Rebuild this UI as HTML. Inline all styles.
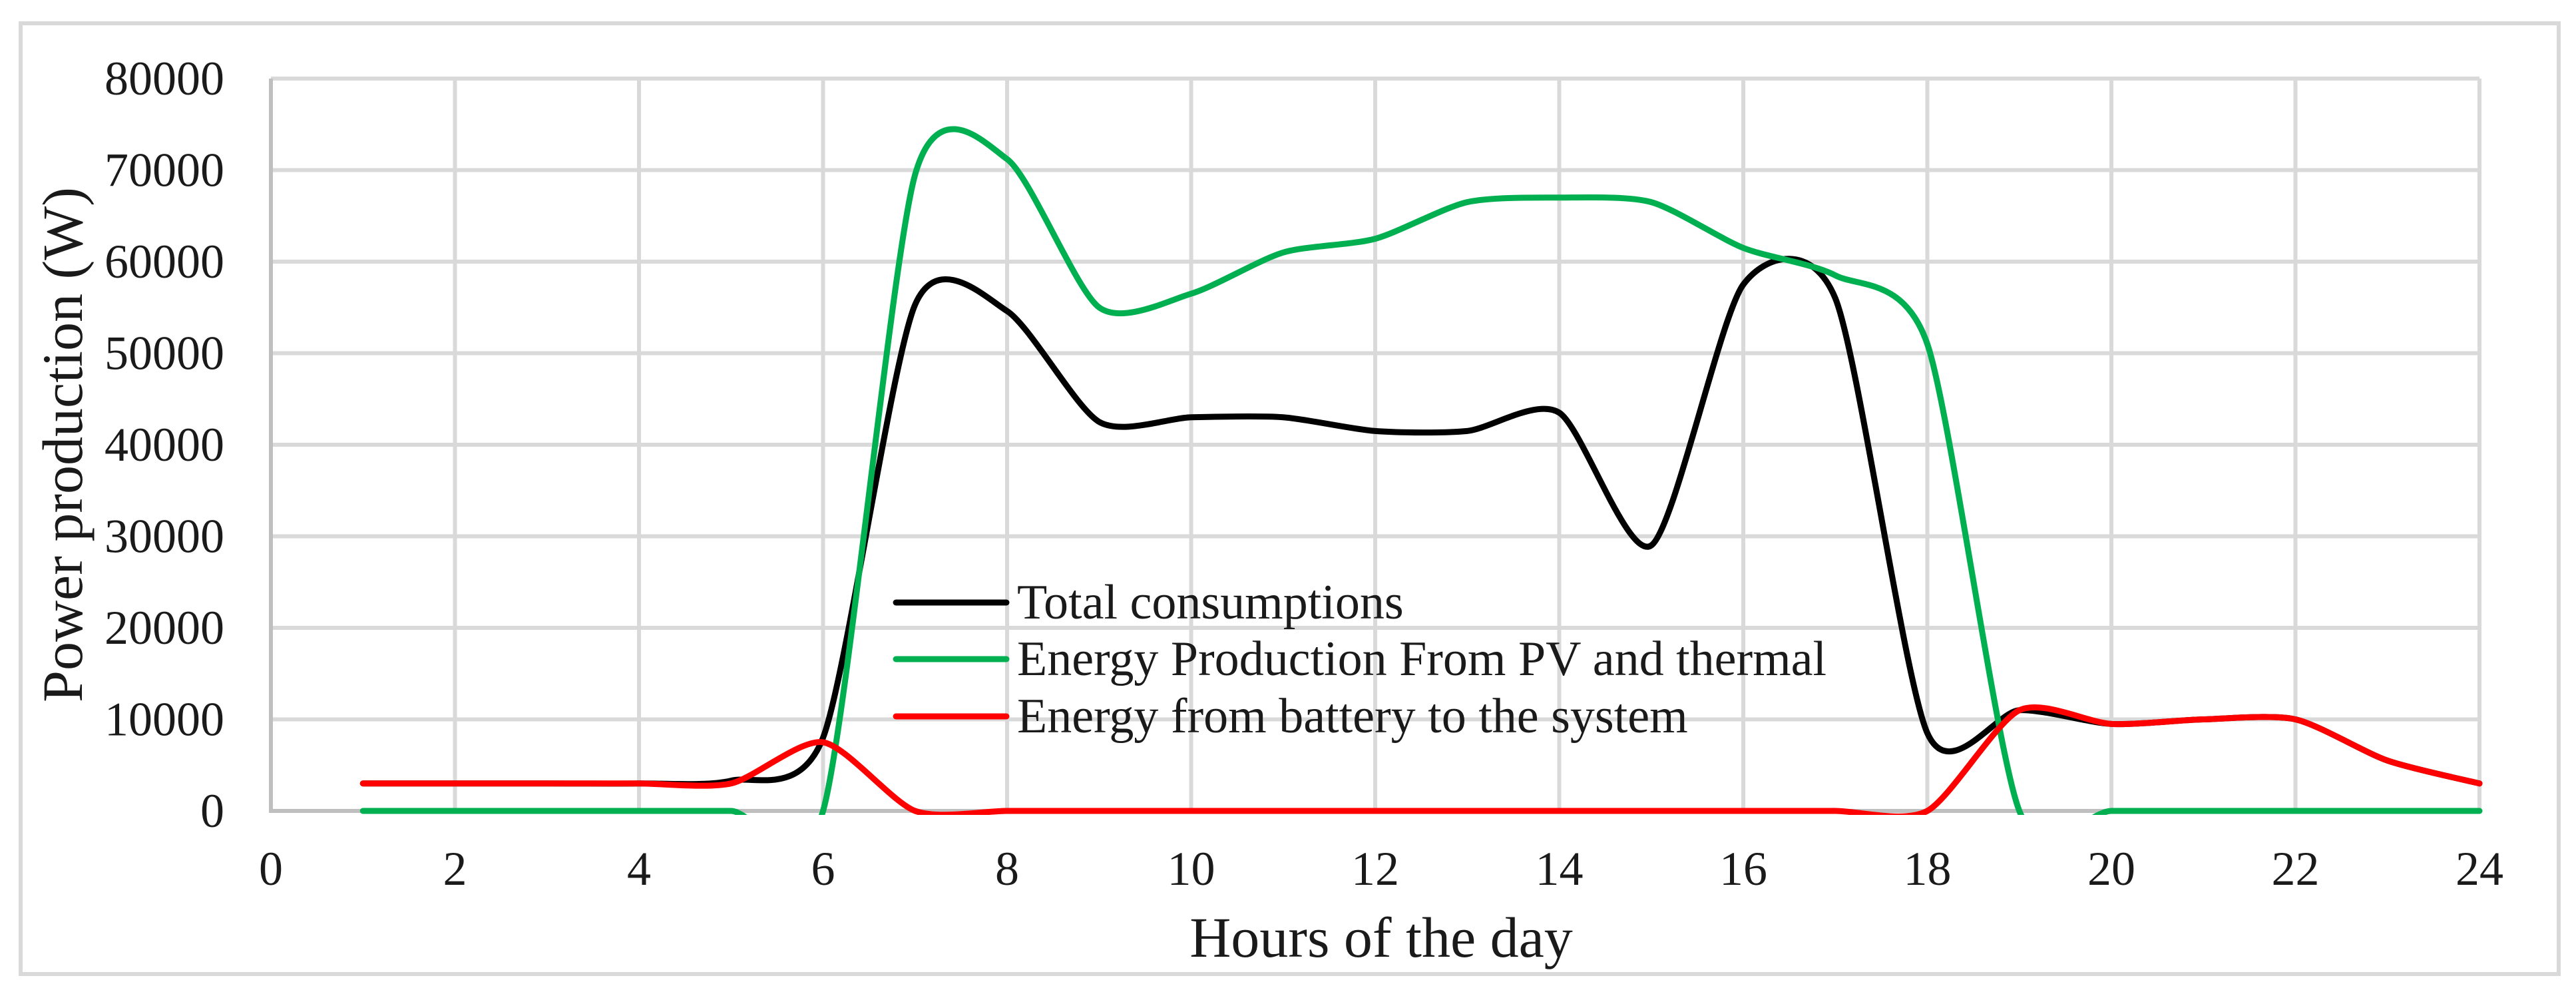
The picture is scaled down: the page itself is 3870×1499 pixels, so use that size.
<!DOCTYPE html>
<html><head><meta charset="utf-8"><style>
html,body{margin:0;padding:0;background:#fff}
svg{display:block}
text{font-family:"Liberation Serif","Times New Roman",serif;fill:#1a1a1a}
</style></head><body>
<svg id="chart" width="3870" height="1499" viewBox="0 0 3870 1499" xmlns="http://www.w3.org/2000/svg">
<defs><clipPath id="plotclip"><rect x="400" y="100" width="3340" height="1124"/></clipPath></defs>
<rect x="31" y="35" width="3813" height="1428" fill="#fff" stroke="#d9d9d9" stroke-width="6"/>
<g id="grid"></g>
<g id="axes"></g>
<g id="series" clip-path="url(#plotclip)"></g>
<text transform="translate(94,668) rotate(-90)" text-anchor="middle" dominant-baseline="central" font-size="86">Power production (W)</text>
<text x="2075" y="1437" text-anchor="middle" font-size="86">Hours of the day</text>
<g id="legend"></g>
</svg>
<script>
const hours = [1,2,3,4,5,6,7,8,9,10,11,12,13,14,15,16,17,18,19,20,21,22,23,24];
const totalConsumption = [3000,3000,3000,3000,3300,8000,55300,54600,42500,43000,43000,41500,41500,43500,29000,57500,56000,8500,11000,9500,10000,10000,5500,3000];
const pvThermal = [0,0,0,0,0,0,69500,71200,55000,56500,61000,62500,66500,67000,66500,61500,58500,51000,0,0,0,0,0,0];
const battery = [3000,3000,3000,3000,3000,7500,0,0,0,0,0,0,0,0,0,0,0,0,11000,9500,10000,10000,5500,3000];
const xTicks = [0,2,4,6,8,10,12,14,16,18,20,22,24];
const yTicks = [0,10000,20000,30000,40000,50000,60000,70000,80000];
const legendLabels = ["Total consumptions","Energy Production From PV and thermal","Energy from battery to the system"];

const NS="http://www.w3.org/2000/svg";
const X0=407,X1=3725,Y0=1218,Y1=118;
const xs=v=>X0+(v-0)/(24-0)*(X1-X0);
const ys=v=>Y0-(v-0)/(80000-0)*(Y0-Y1);
function mk(tag,attrs,parent){const e=document.createElementNS(NS,tag);for(const k in attrs)e.setAttribute(k,attrs[k]);parent.appendChild(e);return e;}
const grid=document.getElementById('grid'),axes=document.getElementById('axes'),series=document.getElementById('series'),legend=document.getElementById('legend');

yTicks.forEach(t=>{
  if(t>0){const l=mk('line',{x1:X0,x2:X1,y1:ys(t),y2:ys(t),stroke:'#d9d9d9','stroke-width':6},grid);
  
  }
  const tx=mk('text',{x:337,y:ys(t),'text-anchor':'end','dominant-baseline':'central','font-size':72},axes);
  tx.textContent=t;
  
  
});
xTicks.forEach(t=>{
  if(t>0){const l=mk('line',{x1:xs(t),x2:xs(t),y1:Y1,y2:Y0,stroke:'#d9d9d9','stroke-width':6},grid);
  
  }
  const tx=mk('text',{x:xs(t),y:1329,'text-anchor':'middle','font-size':72},axes);
  tx.textContent=t;
  
  
});
const ya=mk('line',{x1:X0,x2:X0,y1:Y1,y2:Y0,stroke:'#bfbfbf','stroke-width':6},axes);


const xa=mk('line',{x1:X0-3,x2:X1,y1:Y0,y2:Y0,stroke:'#bfbfbf','stroke-width':6},axes);



function smoothPath(xv,yv){
  const p=xv.map((x,i)=>[xs(x),ys(yv[i])]);
  const k=1/8;
  let d=`M${p[0][0]},${p[0][1]}`;
  for(let i=0;i<p.length-1;i++){
    const p0=p[Math.max(i-1,0)],p1=p[i],p2=p[i+1],p3=p[Math.min(i+2,p.length-1)];
    const c1=[p1[0]+(p2[0]-p0[0])*k,p1[1]+(p2[1]-p0[1])*k];
    const c2=[p2[0]-(p3[0]-p1[0])*k,p2[1]-(p3[1]-p1[1])*k];
    d+=` C${c1[0]},${c1[1]} ${c2[0]},${c2[1]} ${p2[0]},${p2[1]}`;
  }
  return d;
}
const defs=[[totalConsumption,'#000000','total-consumption-line'],[pvThermal,'#00b050','pv-thermal-line'],[battery,'#ff0000','battery-line']];
defs.forEach(([vals,col,name])=>{
  const pth=mk('path',{d:smoothPath(hours,vals),fill:'none',stroke:col,'stroke-width':9,'stroke-linecap':'round','stroke-linejoin':'round'},series);
  
  
});
const legYs=[905,990,1076];
defs.forEach(([v,col,name],i)=>{
  const l=mk('line',{x1:1346,x2:1512,y1:legYs[i],y2:legYs[i],stroke:col,'stroke-width':9,'stroke-linecap':'round'},legend);
  
  
  const t=mk('text',{x:1528,y:legYs[i],'dominant-baseline':'central','font-size':74},legend);
  t.textContent=legendLabels[i];
  
  
});
</script>
</body></html>
